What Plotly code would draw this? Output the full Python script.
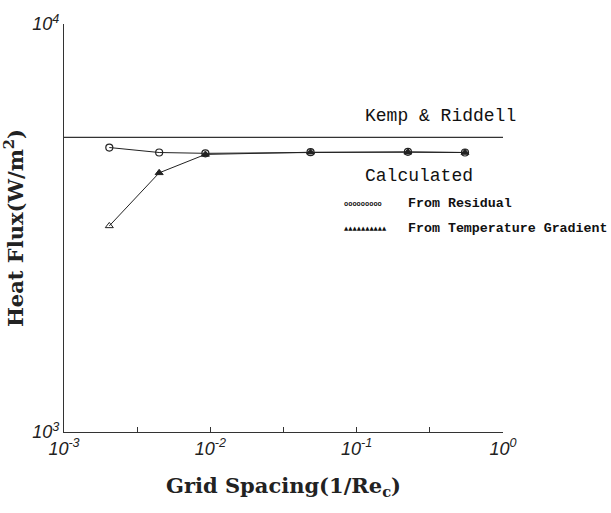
import plotly.graph_objects as go

# Data
grid_spacing = [0.00204, 0.00447, 0.00925, 0.0484, 0.224, 0.55]
flux_residual = [4980, 4842, 4820, 4850, 4860, 4842]
flux_gradient = [3200, 4317, 4790, 4850, 4850, 4842]
kemp_x = [0.001, 1.0]
kemp_flux = [5275, 5275]

x_tickvals = [1e-3, 1e-2, 1e-1, 1e0]
x_ticktext = ["10<sup>-3</sup>", "10<sup>-2</sup>", "10<sup>-1</sup>", "10<sup>0</sup>"]
x_minor_tickvals = [10**-2.5, 10**-1.5, 10**-0.5]
y_tickvals = [1e3, 1e4]
y_ticktext = ["10<sup>3</sup>", "10<sup>4</sup>"]

fig = go.Figure()
fig.add_trace(go.Scatter(x=kemp_x, y=kemp_flux, mode="lines", name="Kemp & Riddell",
                         line=dict(color="#333", width=1.2), showlegend=False))
fig.add_trace(go.Scatter(x=grid_spacing, y=flux_residual, mode="lines+markers", name="From Residual",
                         line=dict(color="#222", width=1),
                         marker=dict(symbol="circle-open", size=7, color="#222", line=dict(width=1.2)),
                         showlegend=False))
fig.add_trace(go.Scatter(x=grid_spacing, y=flux_gradient, mode="lines+markers", name="From Temperature Gradient",
                         line=dict(color="#222", width=1),
                         marker=dict(symbol=["triangle-up-open"] + ["triangle-up"] * 5, size=7,
                                     color="#222", line=dict(width=1, color="#222")),
                         showlegend=False))

mono = "Liberation Mono"
fig.add_annotation(x=0.681, y=0.775, xref="paper", yref="paper", xanchor="left", yanchor="middle",
                   text="Kemp & Riddell", showarrow=False, font=dict(family=mono, size=18, color="#111"))
fig.add_annotation(x=0.681, y=0.627, xref="paper", yref="paper", xanchor="left", yanchor="middle",
                   text="Calculated", showarrow=False, font=dict(family=mono, size=18, color="#111"))
fig.add_annotation(x=0.633, y=0.560, xref="paper", yref="paper", xanchor="left", yanchor="middle",
                   text="<b>ooooooooo</b>", showarrow=False,
                   font=dict(family=mono, size=7, color="#111"))
fig.add_annotation(x=0.78, y=0.560, xref="paper", yref="paper", xanchor="left", yanchor="middle",
                   text="<b>From Residual</b>", showarrow=False,
                   font=dict(family=mono, size=13.3, color="#111"))
fig.add_annotation(x=0.633, y=0.500, xref="paper", yref="paper", xanchor="left", yanchor="middle",
                   text="▲▲▲▲▲▲▲▲▲▲", showarrow=False,
                   font=dict(family="DejaVu Sans", size=5.5, color="#111"))
fig.add_annotation(x=0.78, y=0.500, xref="paper", yref="paper", xanchor="left", yanchor="middle",
                   text="<b>From Temperature Gradient</b>", showarrow=False,
                   font=dict(family=mono, size=13.3, color="#111"))

fig.update_xaxes(type="log", range=[-3, 0], tickvals=x_tickvals, ticktext=x_ticktext,
                 showline=True, linecolor="#333", linewidth=1.2, ticks="inside", ticklen=5,
                 tickcolor="#333", showgrid=False, zeroline=False,
                 minor=dict(tickvals=x_minor_tickvals, ticks="inside", ticklen=5,
                            tickcolor="#333", showgrid=False),
                 tickfont=dict(family="Liberation Sans", size=18, color="#222", style="italic"),
                 title=dict(text="<b>Grid Spacing(1/Re<sub>c</sub>)</b>",
                            font=dict(family="DejaVu Serif", size=21, color="#222"), standoff=20))
fig.update_yaxes(type="log", range=[3, 4], tickvals=y_tickvals, ticktext=y_ticktext,
                 showline=True, linecolor="#333", linewidth=1.2, ticks="inside", ticklen=4,
                 tickcolor="#333", showgrid=False, zeroline=False,
                 tickfont=dict(family="Liberation Sans", size=18, color="#222", style="italic"),
                 title=dict(text="<b>Heat Flux(W/m<sup>2</sup>)</b>",
                            font=dict(family="DejaVu Serif", size=21, color="#222"), standoff=4))

fig.update_layout(width=611, height=513, margin=dict(l=64, r=108, t=16, b=81),
                  plot_bgcolor="white", paper_bgcolor="white")
fig.write_html("out.html")
